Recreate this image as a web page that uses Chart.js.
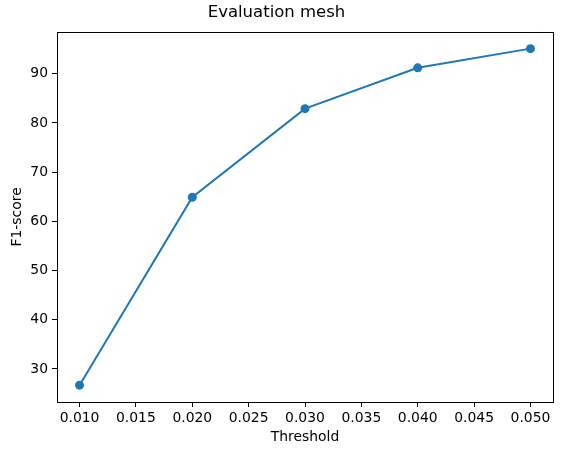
<!DOCTYPE html>
<html>
<head>
<meta charset="utf-8">
<script src="https://cdn.jsdelivr.net/npm/chart.js@4"></script>
<style>
  html, body { margin: 0; padding: 0; background: #fff; }
  #wrap { width: 562px; height: 455px; }
</style>
</head>
<body>
<div id="wrap"><canvas id="mainChart" width="562" height="455"></canvas></div>
<script>
// --- Data ---
const thresholds = [0.010, 0.020, 0.030, 0.040, 0.050];
const f1Scores = [26.7, 64.9, 82.9, 91.2, 95.1];
const xTicks = [0.010, 0.015, 0.020, 0.025, 0.030, 0.035, 0.040, 0.045, 0.050];
const yTicks = [30, 40, 50, 60, 70, 80, 90];

const FONT = 'DejaVu Sans';

// frame around the plot area (matplotlib-style box)
const frame = {
	id: 'frame',
	afterDraw(chart) {
		const a = chart.chartArea, c = chart.ctx;
		c.save();
		c.strokeStyle = '#000';
		c.lineWidth = 1;
		c.strokeRect(Math.round(a.left) + 0.5, Math.round(a.top) + 0.5, Math.round(a.right - a.left), Math.round(a.bottom - a.top));
		c.restore();
	}
};

const ctx = document.getElementById('mainChart');
new Chart(ctx, {
	type: 'line',
	data: {
		datasets: [{
			data: thresholds.map((t, i) => ({ x: t, y: f1Scores[i] })),
			borderColor: '#1f77b4',
			backgroundColor: '#1f77b4',
			borderWidth: 2,
			pointRadius: 4.5,
			pointBorderWidth: 0,
			tension: 0
		}]
	},
	options: {
		responsive: false,
		animation: false,
		devicePixelRatio: 1,
		layout: { padding: { left: 0, right: 9, top: 0, bottom: 0 } },
		plugins: {
			legend: { display: false },
			tooltip: { enabled: false },
			title: {
				display: true,
				text: 'Evaluation mesh',
				color: '#000',
				font: { family: FONT, size: 16.5, weight: 'normal' },
				padding: { top: 3, bottom: 9 }
			}
		},
		scales: {
			x: {
				type: 'linear',
				min: 0.008,
				max: 0.052,
				afterFit: s => { s.height = 53; },
				afterBuildTicks: s => { s.ticks = xTicks.map(v => ({ value: v })); },
				grid: { drawOnChartArea: false, drawTicks: true, tickLength: 5, color: '#000' },
				border: { display: false },
				ticks: {
					color: '#000',
					padding: 3,
					maxRotation: 0,
					autoSkip: false,
					font: { family: FONT, size: 13.9 },
					callback: v => v.toFixed(3)
				},
				title: {
					display: true,
					text: 'Threshold',
					color: '#000',
					font: { family: FONT, size: 13.9 },
					padding: { top: 2, bottom: 9 }
				}
			},
			y: {
				min: 23.28,
				max: 98.52,
				afterFit: s => { s.width = 57; },
				afterBuildTicks: s => { s.ticks = yTicks.map(v => ({ value: v })); },
				grid: { drawOnChartArea: false, drawTicks: true, tickLength: 5, color: '#000' },
				border: { display: false },
				ticks: {
					color: '#000',
					padding: 4,
					font: { family: FONT, size: 13.9 }
				},
				title: {
					display: true,
					text: 'F1-score',
					color: '#000',
					font: { family: FONT, size: 13.9 },
					padding: { top: 9, bottom: 0 }
				}
			}
		}
	},
	plugins: [frame]
});
</script>
</body>
</html>
